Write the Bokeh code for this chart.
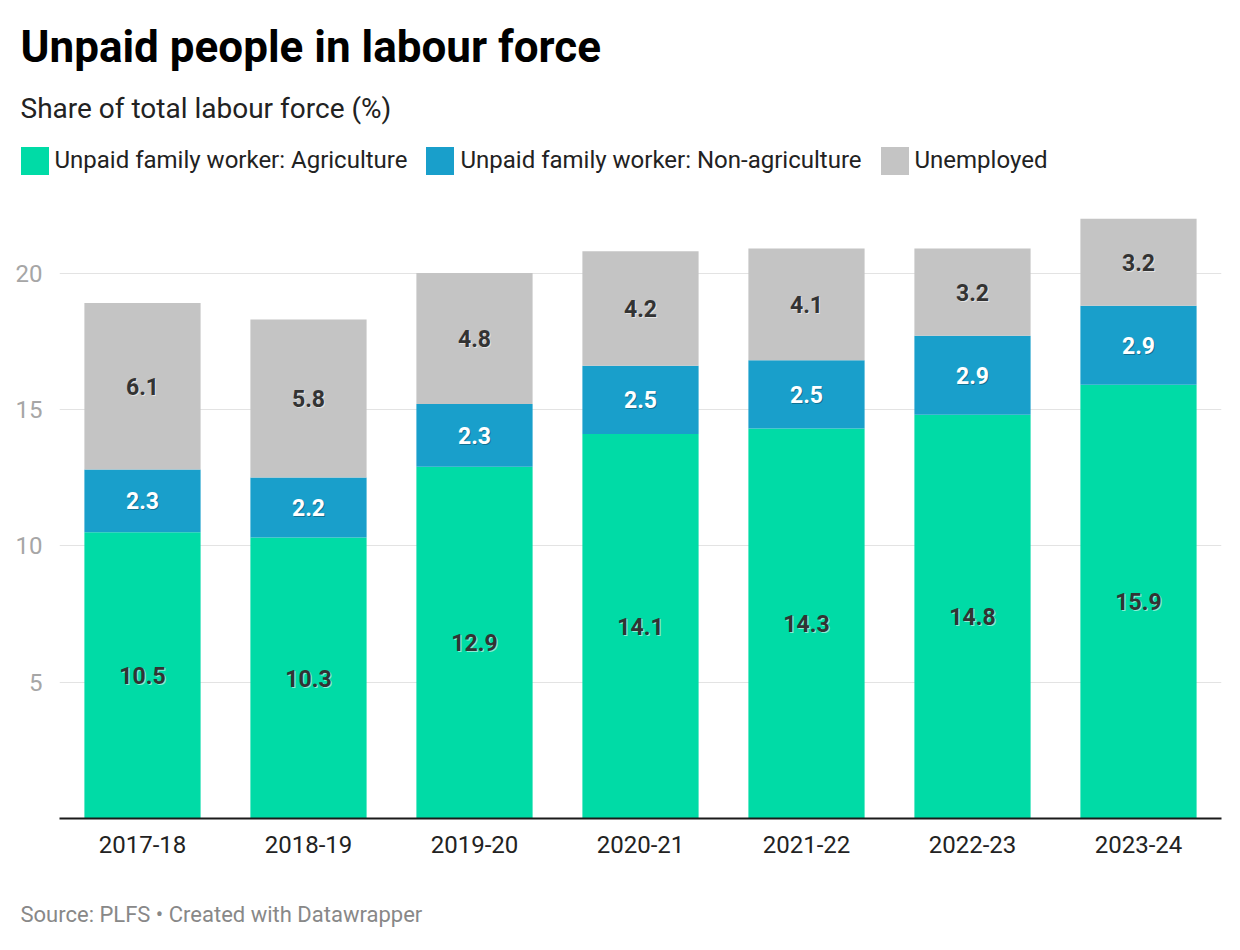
from bokeh.plotting import figure
from bokeh.layouts import column
from bokeh.models import (ColumnDataSource, FixedTicker, Label, Legend, LegendItem,
                          Range1d, FactorRange)
from bokeh.core.properties import value
from bokeh.embed import file_html
from bokeh.resources import INLINE

years = ["2017-18", "2018-19", "2019-20", "2020-21", "2021-22", "2022-23", "2023-24"]
agriculture = [10.5, 10.3, 12.9, 14.1, 14.3, 14.8, 15.9]
non_agriculture = [2.3, 2.2, 2.3, 2.5, 2.5, 2.9, 2.9]
unemployed = [6.1, 5.8, 4.8, 4.2, 4.1, 3.2, 3.2]
series_names = ["Unpaid family worker: Agriculture",
                "Unpaid family worker: Non-agriculture",
                "Unemployed"]
y_ticks = [5, 10, 15, 20]

colors = ["#00dba6", "#199fcb", "#c4c4c4"]
label_colors = ["#333333", "#ffffff", "#333333"]
FONT = "Roboto"

W = 1240
HEAD_H = 218
MAIN_H = 682
FOOT_H = 50

keys = ["agri", "nonagri", "unemp"]
src = ColumnDataSource(dict(years=years, agri=agriculture, nonagri=non_agriculture,
                            unemp=unemployed))


def blank(height):
    f = figure(width=W, height=height, x_range=FactorRange(*years), y_range=Range1d(0, 22),
               output_backend="svg", toolbar_location=None, min_border=0,
               min_border_left=0, min_border_right=0, min_border_top=0, min_border_bottom=0,
               x_axis_location=None, y_axis_location=None)
    f.frame_align = False
    f.outline_line_color = None
    f.xgrid.visible = False
    f.ygrid.visible = False
    return f


def screen_label(f, text, x, y, size, color, style="normal"):
    f.add_layout(Label(x=x, y=y, x_units="screen", y_units="screen", text=text,
                       text_font=FONT, text_font_size=size, text_font_style=style,
                       text_color=color, text_baseline="middle", text_align="left"))


# ---------- header: title, subtitle, legend ----------
head = blank(HEAD_H)
screen_label(head, "Unpaid people in labour force", 20, HEAD_H - 46, "44px", "#000000", "bold")
screen_label(head, "Share of total labour force (%)", 20, HEAD_H - 108, "28px", "#222222")

swatches = head.vbar_stack(keys, x="years", width=0.7, color=colors, line_color=None,
                           source=src)
for r in swatches:
    r.visible = False
legend = Legend(items=[LegendItem(label=n, renderers=[r]) for n, r in zip(series_names, swatches)],
                orientation="horizontal", location=(16.5, HEAD_H - 177.5),
                glyph_width=35, glyph_height=35, label_standoff=3, spacing=15,
                padding=0, margin=0, border_line_color=None, background_fill_alpha=0,
                inactive_fill_alpha=0,
                label_text_font=FONT, label_text_font_size="24px",
                label_text_color="#222222", label_height=35,
                label_text_baseline="middle")
head.add_layout(legend, "center")

# ---------- main chart ----------
p = figure(width=W, height=MAIN_H, x_range=FactorRange(*years, range_padding=0),
           y_range=Range1d(0, 22), output_backend="svg", toolbar_location=None,
           min_border_left=59, min_border_right=19, min_border_top=0,
           min_border_bottom=MAIN_H - 600)
p.frame_align = False
p.outline_line_color = None

p.xgrid.grid_line_color = None
p.ygrid.ticker = FixedTicker(ticks=y_ticks)
p.ygrid.grid_line_color = "#e3e3e3"
p.ygrid.grid_line_width = 1

p.yaxis.ticker = FixedTicker(ticks=y_ticks)
p.yaxis.axis_line_color = None
p.yaxis.major_tick_line_color = None
p.yaxis.minor_tick_line_color = None
p.yaxis.major_label_text_font = FONT
p.yaxis.major_label_text_font_size = "24px"
p.yaxis.major_label_text_color = "#a6a6a6"
p.yaxis.major_label_standoff = 11

p.xaxis.axis_line_color = "#1a1a1a"
p.xaxis.axis_line_width = 2
p.xaxis.major_tick_line_color = None
p.xaxis.minor_tick_line_color = None
p.xaxis.major_label_text_font = FONT
p.xaxis.major_label_text_font_size = "24px"
p.xaxis.major_label_text_color = "#222222"
p.xaxis.major_label_standoff = 11

renderers = p.vbar_stack(keys, x="years", width=0.7, color=colors, line_color=None,
                         source=src)

bottoms = [0.0] * len(years)
for i, vals in enumerate([agriculture, non_agriculture, unemployed]):
    mids = [b + v / 2 for b, v in zip(bottoms, vals)]
    txt = [f"{v:.1f}" for v in vals]
    lsrc = ColumnDataSource(dict(x=years, y=mids, t=txt))
    shadow = "#0b4a63" if i == 1 else "#ffffff"
    p.text(x="x", y="y", text="t", source=lsrc, text_align="center",
           text_baseline="middle", text_font=value(FONT), text_font_style="bold",
           text_font_size="23px", text_color=shadow, text_alpha=0.55,
           x_offset=1, y_offset=1)
    p.text(x="x", y="y", text="t", source=lsrc, text_align="center",
           text_baseline="middle", text_font=value(FONT), text_font_style="bold",
           text_font_size="23px", text_color=label_colors[i])
    bottoms = [b + v for b, v in zip(bottoms, vals)]

# ---------- footer ----------
foot = blank(FOOT_H)
screen_label(foot, "Source: PLFS \u2022 Created with Datawrapper", 20, FOOT_H - 14, "22px", "#888888")

layout = column(head, p, foot, spacing=0)
open("out.html", "w").write(file_html(layout, INLINE))
